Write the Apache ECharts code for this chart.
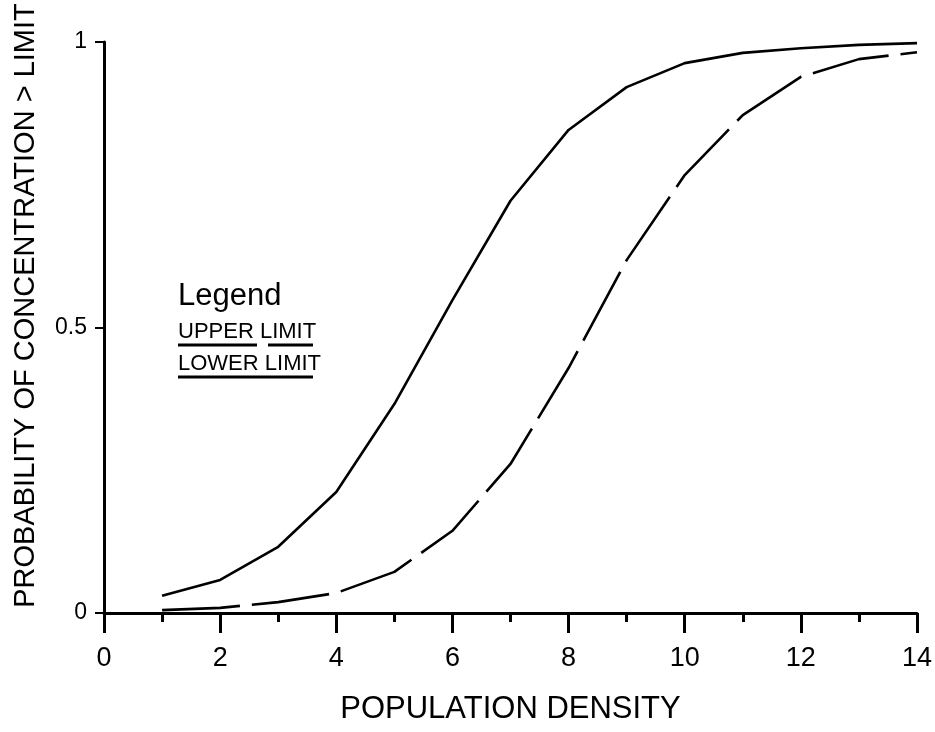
<!DOCTYPE html>
<html>
<head>
<meta charset="utf-8">
<script src="https://cdn.jsdelivr.net/npm/echarts@6/dist/echarts.min.js"></script>
<style>
html,body{margin:0;padding:0;background:#fff;}
#chart{width:935px;height:732px;}
</style>
</head>
<body>
<div id="chart"></div>
<script>
// ---- data ----
var populationDensity = [1, 2, 3, 4, 5, 6, 7, 8, 9, 10, 11, 12, 13, 14];
var lowerLimit = [0.030, 0.058, 0.116, 0.212, 0.366, 0.548, 0.722, 0.846, 0.921, 0.963, 0.981, 0.989, 0.995, 0.998];
var upperLimit = [0.005, 0.009, 0.019, 0.035, 0.072, 0.144, 0.261, 0.429, 0.618, 0.767, 0.872, 0.939, 0.970, 0.982];
var xTitle = "POPULATION DENSITY";
var yTitle = "PROBABILITY OF CONCENTRATION > LIMIT";
var legendTitle = "Legend";
var upperName = "UPPER LIMIT";
var lowerName = "LOWER LIMIT";

function pairs(xs, ys) { return xs.map(function (x, i) { return [x, ys[i]]; }); }

var FONT = "'Liberation Sans', Arial, Helvetica, sans-serif";
var chart = echarts.init(document.getElementById('chart'));
chart.setOption({
  animation: false,
  backgroundColor: '#ffffff',
  grid: { left: 104, right: 12, top: 42, bottom: 119, containLabel: false },
  xAxis: {
    type: 'value', min: 0, max: 14, interval: 2,
    name: xTitle, nameLocation: 'middle', nameGap: 81,
    nameTextStyle: { color: '#000', fontSize: 31, fontFamily: FONT },
    axisLine: { show: true, onZero: false, lineStyle: { color: '#000', width: 3 } },
    axisTick: { show: true, length: 20, lineStyle: { color: '#000', width: 3 } },
    minorTick: { show: true, splitNumber: 2, length: 9, lineStyle: { color: '#000', width: 3 } },
    axisLabel: { color: '#000', fontSize: 27, fontFamily: FONT, margin: 32 },
    splitLine: { show: false }, minorSplitLine: { show: false }
  },
  yAxis: {
    type: 'value', min: 0, max: 1, interval: 0.5,
    name: yTitle, nameLocation: 'middle', nameRotate: 90, nameGap: 64,
    nameTextStyle: { color: '#000', fontSize: 29, fontFamily: FONT, padding: [0, 0, 0, 44] },
    axisLine: { show: true, onZero: false, lineStyle: { color: '#000', width: 3 } },
    axisTick: { show: true, length: 9, lineStyle: { color: '#000', width: 2 } },
    axisLabel: { color: '#000', fontSize: 23, fontFamily: FONT, margin: 17 },
    splitLine: { show: false }
  },
  series: [
    {
      name: lowerName, type: 'line', data: pairs(populationDensity, lowerLimit),
      showSymbol: false, symbol: 'none', smooth: false,
      lineStyle: { color: '#000', width: 2.6, type: 'solid' }, z: 3
    },
    {
      name: upperName, type: 'line', data: pairs(populationDensity, upperLimit),
      showSymbol: false, symbol: 'none', smooth: false,
      lineStyle: { color: '#000', width: 2.6, type: [78, 12] }, z: 3
    }
  ],
  graphic: [
    { type: 'text', left: 178, top: 281, style: { text: legendTitle, font: '31px ' + FONT, fill: '#000' } },
    { type: 'text', left: 178, top: 321, style: { text: upperName, font: '22px ' + FONT, fill: '#000' } },
    { type: 'text', left: 178, top: 353, style: { text: lowerName, font: '22px ' + FONT, fill: '#000' } },
    { type: 'line', shape: { x1: 178, y1: 345, x2: 257, y2: 345 }, style: { stroke: '#000', lineWidth: 3 } },
    { type: 'line', shape: { x1: 268, y1: 345, x2: 313, y2: 345 }, style: { stroke: '#000', lineWidth: 3 } },
    { type: 'line', shape: { x1: 178, y1: 377, x2: 313, y2: 377 }, style: { stroke: '#000', lineWidth: 3 } }
  ]
});
</script>
</body>
</html>
